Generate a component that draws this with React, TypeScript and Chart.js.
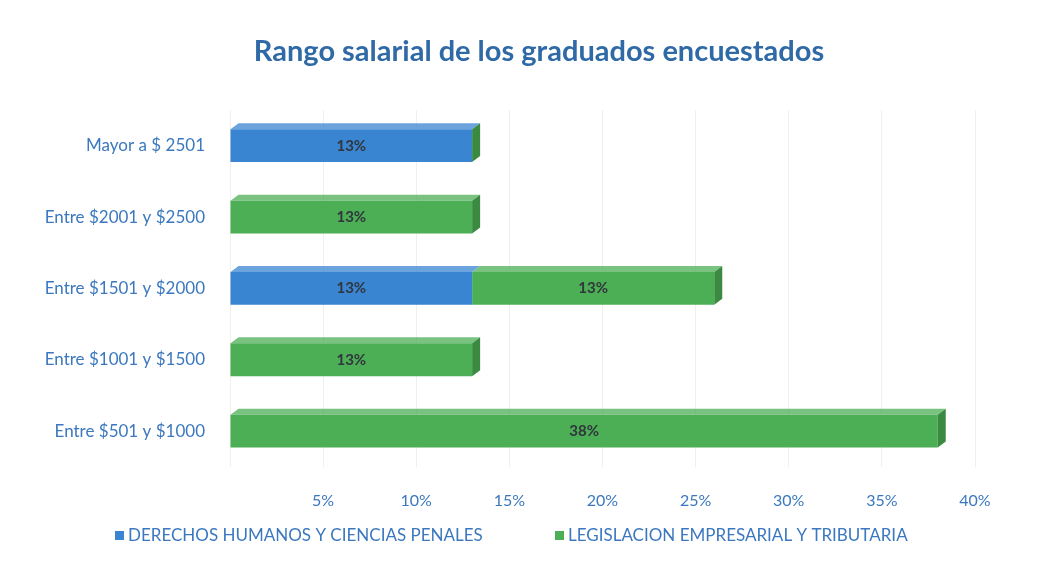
import React, { useEffect, useRef } from "react";
import { Chart, registerables } from "chart.js";

Chart.register(...registerables);

const categories = [
  "Mayor a $ 2501",
  "Entre $2001 y $2500",
  "Entre $1501 y $2000",
  "Entre $1001 y $1500",
  "Entre $501 y $1000",
];
const derechosValues = [13, 0, 13, 0, 0];
const legislacionValues = [0, 13, 13, 13, 38];
const seriesNames = [
  "DERECHOS HUMANOS Y CIENCIAS PENALES",
  "LEGISLACION EMPRESARIAL Y TRIBUTARIA",
];
const titleText = "Rango salarial de los graduados encuestados";
const xTicks = [0, 5, 10, 15, 20, 25, 30, 35, 40];

const BLUE = "#3a85d2";
const GREEN = "#4cae55";
const BLUE_DARK = "#2a6aac";
const GREEN_DARK = "#3a8a42";
const TEXT_BLUE = "#3b78bf";
const FONT = "Lato, 'Open Sans', sans-serif";

function shade(hex: string) {
  return hex === BLUE ? BLUE_DARK : GREEN_DARK;
}

const decorPlugin = {
  id: "decor",
  afterDatasetsDraw(chart: any) {
    const ctx = chart.ctx;
    const n = chart.data.labels.length;
    const metas = chart.data.datasets.map((_: any, i: number) => chart.getDatasetMeta(i));
    ctx.save();
    const dx = 8, dy = 6;
    for (let j = 0; j < n; j++) {
      let right = -Infinity, top = 0, bottom = 0;
      metas.forEach((m: any, i: number) => {
        const el = m.data[j];
        const v = chart.data.datasets[i].data[j];
        top = el.y - el.height / 2;
        bottom = el.y + el.height / 2;
        if (v > 0) right = Math.max(right, el.x);
      });
      metas.forEach((m: any, i: number) => {
        const el = m.data[j];
        const v = chart.data.datasets[i].data[j];
        if (v > 0) {
          ctx.fillStyle = chart.data.datasets[i].backgroundColor;
          ctx.globalAlpha = 0.75;
          ctx.beginPath();
          ctx.moveTo(el.base, top);
          ctx.lineTo(el.base + dx, top - dy);
          ctx.lineTo(el.x + dx, top - dy);
          ctx.lineTo(el.x, top);
          ctx.closePath();
          ctx.fill();
          ctx.globalAlpha = 1;
        }
      });
      const capColor = chart.data.datasets[chart.data.datasets.length - 1].backgroundColor;
      ctx.fillStyle = shade(capColor);
      ctx.beginPath();
      ctx.moveTo(right, top);
      ctx.lineTo(right + dx, top - dy);
      ctx.lineTo(right + dx, bottom - dy);
      ctx.lineTo(right, bottom);
      ctx.closePath();
      ctx.fill();
      metas.forEach((m: any, i: number) => {
        const el = m.data[j];
        const v = chart.data.datasets[i].data[j];
        if (v > 0) {
          ctx.fillStyle = "#30363c";
          ctx.font = `bold 15px ${FONT}`;
          ctx.textAlign = "center";
          ctx.textBaseline = "middle";
          ctx.fillText(v + "%", (el.base + el.x) / 2, el.y);
        }
      });
    }
    ctx.restore();
  },
  afterDraw(chart: any) {
    const ctx = chart.ctx;
    ctx.save();
    ctx.fillStyle = "#2f6aa6";
    ctx.font = `bold 29px ${FONT}`;
    ctx.textAlign = "center";
    ctx.textBaseline = "middle";
    ctx.fillText(titleText, 531, 44);
    ctx.font = `17px ${FONT}`;
    ctx.textAlign = "left";
    const items = [
      { x: 107, color: BLUE, text: seriesNames[0] },
      { x: 547, color: GREEN, text: seriesNames[1] },
    ];
    items.forEach((it) => {
      ctx.fillStyle = it.color;
      ctx.fillRect(it.x, 523, 9, 9);
      ctx.fillStyle = TEXT_BLUE;
      ctx.fillText(it.text, it.x + 13, 528);
    });
    ctx.restore();
  },
};

export default function App() {
  const ref = useRef<HTMLCanvasElement | null>(null);
  useEffect(() => {
    if (!ref.current) return;
    const chart = new Chart(ref.current, {
      type: "bar",
      data: {
        labels: categories,
        datasets: [
          { label: seriesNames[0], data: derechosValues, backgroundColor: BLUE, barPercentage: 0.46, categoryPercentage: 1 },
          { label: seriesNames[1], data: legislacionValues, backgroundColor: GREEN, barPercentage: 0.46, categoryPercentage: 1 },
        ],
      },
      options: {
        indexAxis: "y",
        animation: false,
        responsive: true,
        maintainAspectRatio: false,
        layout: { padding: { top: 102, bottom: 30, right: 66, left: 0 } },
        plugins: {
          legend: { display: false },
          title: { display: false },
          tooltip: { enabled: false },
        },
        scales: {
          x: {
            stacked: true,
            min: 0,
            max: 40,
            afterBuildTicks(axis: any) {
              axis.ticks = xTicks.map((v) => ({ value: v }));
            },
            ticks: {
              callback: (v: any) => (v === 0 ? "" : v + "%"),
              color: TEXT_BLUE,
              font: { size: 16, family: FONT },
              padding: 24,
              maxRotation: 0,
            },
            grid: { color: "#efefef", drawTicks: false },
            border: { display: false },
          },
          y: {
            stacked: true,
            afterFit(axis: any) {
              axis.width = 222;
            },
            ticks: {
              color: TEXT_BLUE,
              font: { size: 17, family: FONT },
              padding: 17,
            },
            grid: { display: false },
            border: { display: false },
          },
        },
      },
      plugins: [decorPlugin],
    } as any);
    return () => chart.destroy();
  }, []);
  return (
    <div style={{ position: "relative", width: "1033px", height: "556px" }}>
      <canvas ref={ref} />
    </div>
  );
}
